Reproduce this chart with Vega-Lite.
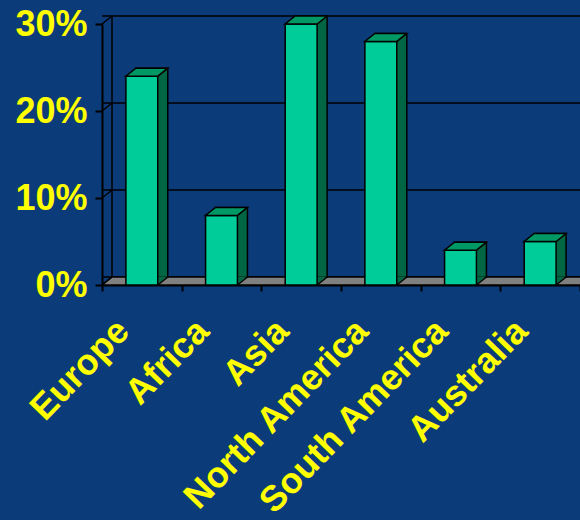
{
  "$schema": "https://vega.github.io/schema/vega-lite/v6.json",
  "width": 478,
  "height": 261,
  "autosize": {"type": "none"},
  "padding": {"left": 102, "top": 24, "right": 0, "bottom": 235},
  "background": "#0b3b78",
  "config": {
    "view": {"stroke": null},
    "font": "Liberation Sans",
    "axis": {
      "title": null, "zindex": 1, "grid": false,
      "domainColor": "black", "domainWidth": 2,
      "tickColor": "black", "tickWidth": 2,
      "labelColor": "#ffff00", "labelFont": "Liberation Sans", "labelFontWeight": "bold",
      "labelBound": false, "labelOverlap": false, "labelLimit": 500
    },
    "axisX": {
      "tickSize": 6, "tickBand": "extent",
      "labelAngle": -46, "labelAlign": "right", "labelBaseline": "middle",
      "labelFontSize": 36, "labelPadding": 34, "labelOffset": -19
    },
    "axisY": {
      "tickSize": 7, "labelFontSize": 36, "labelPadding": 8, "labelBaseline": "middle"
    }
  },
  "datasets": {
    "regions": [
      {"region": "Europe", "share": 0.24},
      {"region": "Africa", "share": 0.08},
      {"region": "Asia", "share": 0.30},
      {"region": "North America", "share": 0.28},
      {"region": "South America", "share": 0.04},
      {"region": "Australia", "share": 0.05}
    ],
    "levels": [
      {"level": 0},
      {"level": 0.1},
      {"level": 0.2},
      {"level": 0.3}
    ]
  },
  "layer": [
    {
      "data": {"name": "levels"},
      "mark": {"type": "rule", "stroke": "black", "strokeWidth": 1.5, "xOffset": 10, "x2Offset": 10, "yOffset": -8},
      "encoding": {
        "y": {"field": "level", "type": "quantitative", "scale": {"domain": [0, 0.3], "nice": false}, "axis": {"title": null, "format": ".0%", "values": [0, 0.1, 0.2, 0.3]}}
      }
    },
    {
      "data": {"name": "regions"},
      "mark": {"type": "point", "shape": "M0,0 L48,0 L49,-0.8 L1,-0.8 Z", "size": 400, "filled": true, "fill": "#808080", "stroke": "black", "strokeWidth": 1.5, "opacity": 1},
      "transform": [{"filter": "datum.region === 'Europe'"}],
      "encoding": {
        "x": {"datum": "Europe", "type": "nominal", "bandPosition": 0, "scale": {"type": "band", "paddingInner": 0, "paddingOuter": 0}, "axis": {"title": null}},
        "y": {"datum": 0, "type": "quantitative", "axis": {"title": null, "format": ".0%", "values": [0, 0.1, 0.2, 0.3]}}
      }
    },
    {
      "data": {"name": "levels"},
      "mark": {"type": "point", "shape": "M0,0 L1,-0.8", "size": 400, "filled": false, "stroke": "black", "strokeWidth": 1.5, "opacity": 1},
      "encoding": {
        "x": {"datum": "Europe", "type": "nominal", "bandPosition": 0, "scale": {"type": "band", "paddingInner": 0, "paddingOuter": 0}, "axis": {"title": null}},
        "y": {"field": "level", "type": "quantitative", "axis": {"title": null, "format": ".0%", "values": [0, 0.1, 0.2, 0.3]}}
      }
    },
    {
      "data": {"name": "levels"},
      "mark": {"type": "rule", "stroke": "black", "strokeWidth": 1.5, "xOffset": 10, "yOffset": -8, "y2Offset": -8},
      "transform": [{"filter": "datum.level === 0"}],
      "encoding": {
        "x": {"datum": "Europe", "type": "nominal", "bandPosition": 0, "scale": {"type": "band", "paddingInner": 0, "paddingOuter": 0}, "axis": {"title": null}},
        "y": {"datum": 0, "type": "quantitative", "axis": {"title": null, "format": ".0%", "values": [0, 0.1, 0.2, 0.3]}},
        "y2": {"datum": 0.3}
      }
    },
    {
      "data": {"name": "regions"},
      "mark": {"type": "bar", "fill": "#006644", "stroke": "black", "strokeWidth": 1.5, "width": {"band": 0.4}, "xOffset": 10, "x2Offset": 10, "yOffset": -8, "y2Offset": -8},
      "encoding": {
        "x": {"field": "region", "type": "nominal", "sort": null, "scale": {"type": "band", "paddingInner": 0, "paddingOuter": 0}, "axis": {"title": null}},
        "y": {"field": "share", "type": "quantitative", "axis": {"title": null, "format": ".0%", "values": [0, 0.1, 0.2, 0.3]}}
      }
    },
    {
      "data": {"name": "regions"},
      "mark": {"type": "point", "shape": "M1.55,-0.86 L2.55,-0.86 L1.55,0 Z", "size": 400, "filled": true, "fill": "#006644", "strokeWidth": 0, "opacity": 1},
      "encoding": {
        "x": {"field": "region", "type": "nominal", "sort": null, "scale": {"type": "band", "paddingInner": 0, "paddingOuter": 0}, "axis": {"title": null}},
        "y": {"datum": 0, "type": "quantitative", "axis": {"title": null, "format": ".0%", "values": [0, 0.1, 0.2, 0.3]}}
      }
    },
    {
      "data": {"name": "regions"},
      "mark": {"type": "point", "shape": "M1.6,0 L2.6,-0.8", "size": 400, "filled": false, "stroke": "black", "strokeWidth": 1.5, "opacity": 1},
      "encoding": {
        "x": {"field": "region", "type": "nominal", "sort": null, "scale": {"type": "band", "paddingInner": 0, "paddingOuter": 0}, "axis": {"title": null}},
        "y": {"datum": 0, "type": "quantitative", "axis": {"title": null, "format": ".0%", "values": [0, 0.1, 0.2, 0.3]}}
      }
    },
    {
      "data": {"name": "regions"},
      "mark": {"type": "bar", "fill": "#00cc99", "stroke": "black", "strokeWidth": 1.5, "width": {"band": 0.4}},
      "encoding": {
        "x": {"field": "region", "type": "nominal", "sort": null, "scale": {"type": "band", "paddingInner": 0, "paddingOuter": 0}, "axis": {"title": null}},
        "y": {"field": "share", "type": "quantitative", "axis": {"title": null, "format": ".0%", "values": [0, 0.1, 0.2, 0.3]}}
      }
    },
    {
      "data": {"name": "regions"},
      "mark": {"type": "point", "shape": "M-1.6,0 L1.6,0 L2.6,-0.8 L-0.6,-0.8 Z", "size": 400, "filled": true, "fill": "#009966", "stroke": "black", "strokeWidth": 1.5, "opacity": 1},
      "encoding": {
        "x": {"field": "region", "type": "nominal", "sort": null, "scale": {"type": "band", "paddingInner": 0, "paddingOuter": 0}, "axis": {"title": null}},
        "y": {"field": "share", "type": "quantitative", "axis": {"title": null, "format": ".0%", "values": [0, 0.1, 0.2, 0.3]}}
      }
    }
  ]
}
